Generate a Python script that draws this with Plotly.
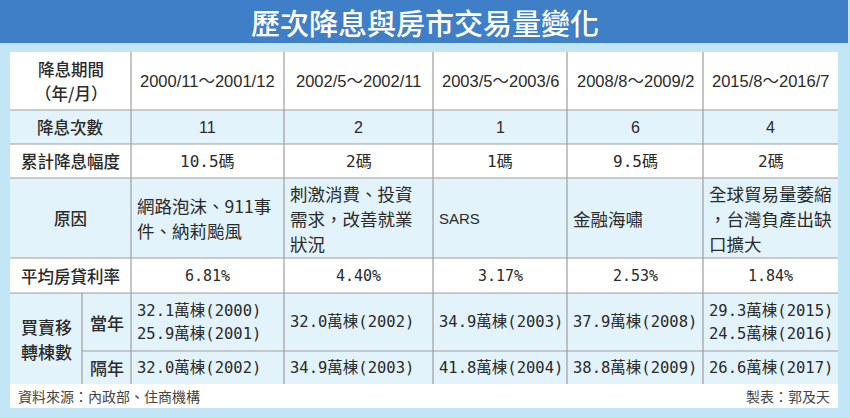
import plotly.graph_objects as go

# ---- data ----
title = "歷次降息與房市交易量變化"
row_labels = [["降息期間", "（年/月）"], ["降息次數"], ["累計降息幅度"], ["原因"], ["平均房貸利率"]]
volume_label = ["買賣移", "轉棟數"]
volume_sub_labels = ["當年", "隔年"]

periods = ["2000/11～2001/12", "2002/5～2002/11", "2003/5～2003/6", "2008/8～2009/2", "2015/8～2016/7"]
cut_counts = ["11", "2", "1", "6", "4"]
cut_sizes = ["10.5碼", "2碼", "1碼", "9.5碼", "2碼"]
reasons = [
    ["網路泡沫、911事", "件、納莉颱風"],
    ["刺激消費、投資", "需求，改善就業", "狀況"],
    ["SARS"],
    ["金融海嘯"],
    ["全球貿易量萎縮", "，台灣負產出缺", "口擴大"],
]
mortgage_rates = ["6.81%", "4.40%", "3.17%", "2.53%", "1.84%"]
volume_same_year = [
    ["32.1萬棟(2000)", "25.9萬棟(2001)"],
    ["32.0萬棟(2002)"],
    ["34.9萬棟(2003)"],
    ["37.9萬棟(2008)"],
    ["29.3萬棟(2015)", "24.5萬棟(2016)"],
]
volume_next_year = ["32.0萬棟(2002)", "34.9萬棟(2003)", "41.8萬棟(2004)", "38.8萬棟(2009)", "26.6萬棟(2017)"]
source_text = "資料來源：內政部、住商機構"
maker_text = "製表：郭及天"

# ---- layout constants ----
W, H = 850, 418
col_edges = [10, 131, 284, 433, 567, 703, 838]
sub_col = 82
row_edges = [52, 110, 144, 178, 258, 293, 351, 384]
footer_bottom = 408
row_fill = ["white", "#e3f3fb", "white", "#e3f3fb", "white", "#e3f3fb", "#e3f3fb"]

BLUE = "#3f7fc8"
FRAME = "#c3e6f7"
GRID = "#9e9e9e"
TXT = "#2a2a2a"
CJK = "Noto Sans CJK TC"
CJK_MED = "Noto Sans CJK TC Medium, Noto Sans CJK TC"
NUM = "DejaVu Sans Mono, Noto Sans CJK TC"

shapes = []
annotations = []


def rect(x0, y0, x1, y1, color):
    shapes.append(dict(type="rect", xref="x", yref="y", x0=x0, y0=y0, x1=x1, y1=y1,
                       fillcolor=color, line=dict(width=0), layer="below"))


def line(x0, y0, x1, y1):
    shapes.append(dict(type="line", xref="x", yref="y", x0=x0, y0=y0, x1=x1, y1=y1,
                       line=dict(color=GRID, width=1.2)))


def text(x, y, s, size, family=CJK, color=TXT, anchor="center", weight="normal"):
    annotations.append(dict(x=x, y=y, xref="x", yref="y", text=s, showarrow=False,
                            xanchor=anchor, yanchor="middle",
                            font=dict(family=family, size=size, color=color, weight=weight)))


def lines_at(x, mid, parts, spacing, size, **kw):
    n = len(parts)
    for k, s in enumerate(parts):
        text(x, mid + (k - (n - 1) / 2) * spacing, s, size, **kw)


# backgrounds
rect(0, 0, W, H, FRAME)
rect(0, 0, 848, 43, BLUE)
for i, fill in enumerate(row_fill):
    rect(col_edges[0], row_edges[i], col_edges[-1], row_edges[i + 1], fill)
rect(col_edges[0], row_edges[-1], col_edges[-1], footer_bottom, "white")

# grid lines
for y in row_edges[1:6]:
    line(col_edges[0], y, col_edges[-1], y)
line(sub_col, row_edges[6], col_edges[-1], row_edges[6])
for x in col_edges[1:-1]:
    line(x, row_edges[0], x, row_edges[-1])
line(sub_col, row_edges[5], sub_col, row_edges[-1])

# title
text(W / 2, 22, title, 29, family=CJK_MED, color="white")

# row labels
label_x = (col_edges[0] + col_edges[1]) / 2
for i, lab in enumerate(row_labels):
    lines_at(label_x, (row_edges[i] + row_edges[i + 1]) / 2, lab, 24, 16.5, family=CJK_MED)
lines_at((col_edges[0] + sub_col) / 2, (row_edges[5] + row_edges[7]) / 2, volume_label, 25, 17, family=CJK_MED)
for k, lab in enumerate(volume_sub_labels):
    text((sub_col + col_edges[1]) / 2, (row_edges[5 + k] + row_edges[6 + k]) / 2, lab, 17, family=CJK_MED)

# cell values
for j in range(5):
    cx = (col_edges[j + 1] + col_edges[j + 2]) / 2
    lx = col_edges[j + 1] + 4
    text(cx, (row_edges[0] + row_edges[1]) / 2, periods[j], 16.5, family="Liberation Sans, " + CJK)
    text(cx, (row_edges[1] + row_edges[2]) / 2, cut_counts[j], 16, family="Liberation Sans")
    text(cx, (row_edges[2] + row_edges[3]) / 2, cut_sizes[j], 16, family=NUM)
    mid = (row_edges[3] + row_edges[4]) / 2
    n = len(reasons[j])
    for k, s in enumerate(reasons[j]):
        ascii_only = s.isascii()
        text(lx, mid + (k - (n - 1) / 2) * 25, s, 15 if ascii_only else 17.5,
             family="Liberation Sans" if ascii_only else CJK, anchor="left")
    text(cx, (row_edges[4] + row_edges[5]) / 2, mortgage_rates[j], 15, family=NUM)
    lines_at(lx, (row_edges[5] + row_edges[6]) / 2, volume_same_year[j], 23, 15.5, family=NUM, anchor="left")
    text(lx, (row_edges[6] + row_edges[7]) / 2, volume_next_year[j], 15.5, family=NUM, anchor="left")

# footer
text(col_edges[0] + 6, (row_edges[-1] + footer_bottom) / 2, source_text, 14, color="#444444", anchor="left")
text(col_edges[-1] - 6, (row_edges[-1] + footer_bottom) / 2, maker_text, 14, color="#444444", anchor="right")

fig = go.Figure()
fig.update_layout(
    width=W, height=H,
    margin=dict(l=0, r=0, t=0, b=0),
    paper_bgcolor="white", plot_bgcolor="white",
    xaxis=dict(range=[0, W], visible=False, fixedrange=True),
    yaxis=dict(range=[H, 0], visible=False, fixedrange=True),
    shapes=shapes, annotations=annotations,
    showlegend=False,
)
fig.write_html("out.html", config={"displayModeBar": False},
               post_script="document.body.style.margin='0';")
